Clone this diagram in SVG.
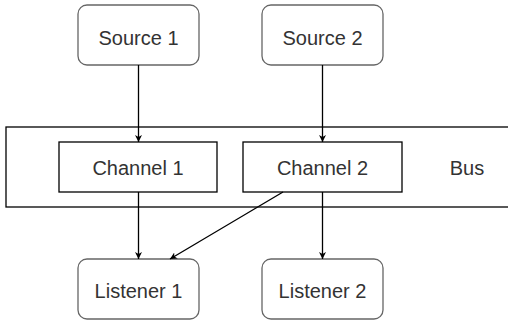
<svg xmlns="http://www.w3.org/2000/svg" width="508" height="320" viewBox="0 0 508 320">
<style>
.rnd{fill:#fff;stroke:#666;stroke-width:1.3}
.box{fill:#fff;stroke:#000;stroke-width:1.3}
.t{font-family:"Liberation Sans",Arial,sans-serif;font-size:20px;fill:#333;text-anchor:middle}
.c{stroke:#000;stroke-width:1.3;fill:none;marker-end:url(#ah)}
</style>
<defs>
<marker id="ah" viewBox="0 0 10 10" refX="10" refY="5" markerWidth="7" markerHeight="7" markerUnits="userSpaceOnUse" orient="auto">
<path d="M0,0 L10,5 L0,10 L3,5 Z" fill="#000"/>
</marker>
</defs>
<rect width="508" height="320" fill="#fff"/>
<g id="bus">
<rect class="box" x="6" y="127" width="510" height="80"/>
<text class="t" x="467" y="175">Bus</text>
</g>
<g id="source1">
<rect class="rnd" x="78" y="5" width="121" height="60" rx="9"/>
<text class="t" x="138.5" y="45">Source 1</text>
</g>
<g id="source2">
<rect class="rnd" x="262" y="5" width="121" height="60" rx="9"/>
<text class="t" x="322.5" y="45">Source 2</text>
</g>
<g id="channel1">
<rect class="box" x="59" y="142" width="158" height="50"/>
<text class="t" x="138" y="175">Channel 1</text>
</g>
<g id="channel2">
<rect class="box" x="243" y="142" width="159" height="50"/>
<text class="t" x="322.5" y="175">Channel 2</text>
</g>
<g id="listener1">
<rect class="rnd" x="78" y="259" width="121" height="60" rx="9"/>
<text class="t" x="138.5" y="298">Listener 1</text>
</g>
<g id="listener2">
<rect class="rnd" x="262" y="259" width="121" height="60" rx="9"/>
<text class="t" x="322.5" y="298">Listener 2</text>
</g>
<g id="connectors">
<path class="c" d="M138.5,65 L138.5,142"/>
<path class="c" d="M322.5,65 L322.5,142"/>
<path class="c" d="M138.5,192 L138.5,259"/>
<path class="c" d="M322.5,192 L322.5,259"/>
<path class="c" d="M283,192 L170,259"/>
</g>
</svg>
